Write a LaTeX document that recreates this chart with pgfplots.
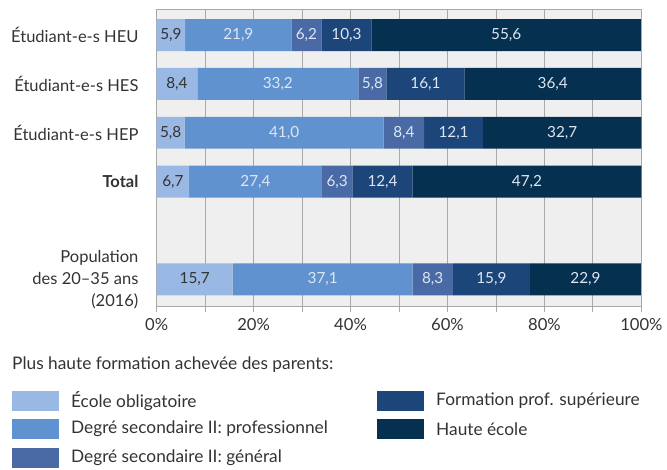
\documentclass[border=0pt]{standalone}
\usepackage{pgfplots}
\pgfplotsset{compat=1.18}
\usepackage{fontspec}
\setmainfont{Lato}
\definecolor{c1}{HTML}{9AB8E4}
\definecolor{c2}{HTML}{6192D0}
\definecolor{c3}{HTML}{4A6AA6}
\definecolor{c4}{HTML}{1C4679}
\definecolor{c5}{HTML}{06304F}
\definecolor{bg}{HTML}{EFEFEF}
\definecolor{gridc}{HTML}{A8A8A8}
\definecolor{txt}{HTML}{333333}
\definecolor{lt}{HTML}{DDE6F2}
\pgfplotstableread{
x y l
2.95 0 5,9
4.2 1 8,4
2.9 2 5,8
3.35 3 6,7
7.85 5 15,7
}\labdark
\pgfplotstableread{
x y l
16.85 0 21,9
30.9 0 6,2
39.15 0 10,3
72.1 0 55,6
25.0 1 33,2
44.5 1 5,8
55.45 1 16,1
81.7 1 36,4
26.3 2 41,0
51.0 2 8,4
61.25 2 12,1
83.65 2 32,7
20.4 3 27,4
37.25 3 6,3
46.6 3 12,4
76.4 3 47,2
34.25 5 37,1
56.95 5 8,3
69.05 5 15,9
88.45 5 22,9
}\lablight
\pgfplotsset{common/.style={
 at={(0,0)}, anchor=south west,
 scale only axis, width=364.5pt, height=223pt,
 y dir=reverse,
 xmin=0, xmax=100, ymin=-0.52, ymax=5.55}}
\begin{document}
\begin{tikzpicture}[x=1pt,y=1pt]
\begin{axis}[
 common,
 xbar stacked, bar width=24pt,
 ytick={0,1,2,3,5},
 yticklabels={Étudiant-e-s HEU, Étudiant-e-s HES, Étudiant-e-s HEP, \textbf{Total}, {Population\\des 20–35 ans\\(2016)}},
 yticklabel style={align=right, font=\fontsize{12.4}{16.5}\selectfont, text=txt, inner sep=0pt, xshift=-9.5pt},
 ytick style={draw=none},
 xtick={0,20,...,100},
 minor xtick={10,30,...,90},
 xticklabel={\pgfmathprintnumber{\tick}\%},
 xticklabel style={font=\fontsize{12.5}{14}\selectfont, text=txt, yshift=-2pt},
 /pgf/number format/assume math mode=true,
 xtick pos=bottom, tick align=outside,
 major tick length=4pt, minor tick length=4pt,
 every tick/.style={gridc, line width=0.7pt},
 xmajorgrids, xminorgrids,
 major grid style={gridc, line width=0.7pt},
 minor grid style={gridc, line width=0.7pt},
 axis line style={gridc, line width=0.8pt},
 axis background/.style={fill=bg},
]
\addplot[fill=c1, draw=none] coordinates {(5.9,0) (8.4,1) (5.8,2) (6.7,3) (15.7,5)};
\addplot[fill=c2, draw=none] coordinates {(21.9,0) (33.2,1) (41.0,2) (27.4,3) (37.1,5)};
\addplot[fill=c3, draw=none] coordinates {(6.2,0) (5.8,1) (8.4,2) (6.3,3) (8.3,5)};
\addplot[fill=c4, draw=none] coordinates {(10.3,0) (16.1,1) (12.1,2) (12.4,3) (15.9,5)};
\addplot[fill=c5, draw=none] coordinates {(55.6,0) (36.4,1) (32.7,2) (47.2,3) (22.9,5)};
\end{axis}
\begin{axis}[common, hide axis]
\addplot[only marks, mark=none, point meta=explicit symbolic, nodes near coords,
  every node near coord/.style={anchor=center, text=txt, font=\fontsize{11.5}{14}\selectfont}]
  table[x=x, y=y, meta=l] {\labdark};
\addplot[only marks, mark=none, point meta=explicit symbolic, nodes near coords,
  every node near coord/.style={anchor=center, text=lt, font=\fontsize{11.5}{14}\selectfont}]
  table[x=x, y=y, meta=l] {\lablight};
\end{axis}
% legend (px -> pt: ((X-157)*0.75, (307-Y)*0.75))
\node[anchor=west, inner sep=0pt, font=\fontsize{13}{15}\selectfont, text=txt] at (-108.75,-43.5) {Plus haute formation achevée des parents:};
\foreach \c/\lab/\xx/\yy in {c1/École obligatoire/-108.75/-71.25, c2/Degré secondaire II: professionnel/-108.75/-92.25, c3/Degré secondaire II: général/-108.75/-114, c4/Formation prof. supérieure/165.75/-71.25, c5/Haute école/165.75/-92.25}{
  \fill[\c] (\xx,\yy-7.5) rectangle ++(35.25,15);
  \node[anchor=west, inner sep=0pt, font=\fontsize{13}{15}\selectfont, text=txt] at (\xx+44.25,\yy) {\lab};
}
\path (-117.75,230.25) rectangle (382.5,-123);
\end{tikzpicture}
\end{document}
